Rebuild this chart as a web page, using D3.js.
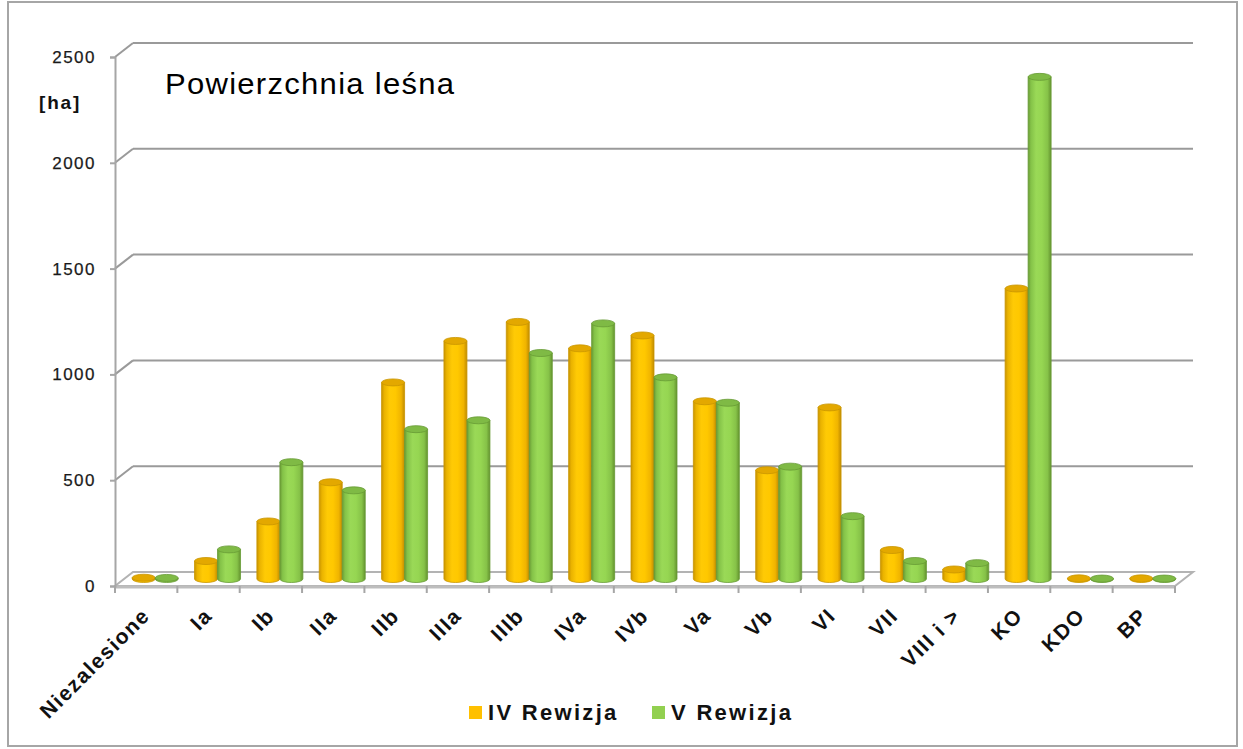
<!DOCTYPE html>
<html>
<head>
<meta charset="utf-8">
<script src="https://cdn.jsdelivr.net/npm/d3@7/dist/d3.min.js"></script>
<style>
  html, body { margin: 0; padding: 0; background: #fff; }
  svg { display: block; }
  text { font-family: "Liberation Sans", Arial, sans-serif; }
</style>
</head>
<body>
<svg id="chart" width="1243" height="749"></svg>
<script>
// ---- data ----
const categories = ["Niezalesione","Ia","Ib","IIa","IIb","IIIa","IIIb","IVa","IVb","Va","Vb","VI","VII","VIII i >","KO","KDO","BP"];
const seriesNames = ["IV Rewizja","V Rewizja"];
const rewizja4 = [6, 85, 272, 457, 929, 1125, 1215, 1090, 1151, 840, 514, 811, 137, 45, 1373, 3, 3];
const rewizja5 = [5, 140, 552, 419, 708, 750, 1068, 1208, 953, 833, 531, 297, 85, 75, 2373, 2, 2];
const yTicks = [0, 500, 1000, 1500, 2000, 2500];
const title = "Powierzchnia leśna";
const unitLabel = "[ha]";

// ---- layout ----
const svg = d3.select("#chart");
const X0 = 115, X1 = 1175, Y0 = 586, Y1 = 57;
const DX = 18, DY = -14; // depth offset of back wall

const x = d3.scaleBand().domain(categories).range([X0, X1]).paddingInner(0).paddingOuter(0);
const y = d3.scaleLinear().domain([0, 2500]).range([Y0, Y1]);

// outer frame
svg.append("rect").attr("x", 8).attr("y", 2).attr("width", 1229).attr("height", 744)
  .attr("fill", "#fff").attr("stroke", "#a6a6a6").attr("stroke-width", 2);

const defs = svg.append("defs");
function grad(id, stops) {
  const g = defs.append("linearGradient").attr("id", id).attr("x1", "0%").attr("x2", "100%").attr("y1", "0%").attr("y2", "0%");
  stops.forEach(s => g.append("stop").attr("offset", s[0]).attr("stop-color", s[1]));
}
grad("gOrange", [["0%", "#c99400"], ["12%", "#eab300"], ["35%", "#ffca05"], ["60%", "#ffc800"], ["85%", "#f0b400"], ["100%", "#c08c00"]]);
grad("gGreen", [["0%", "#6a9b36"], ["12%", "#84c248"], ["35%", "#9ad957"], ["60%", "#96d652"], ["85%", "#86c248"], ["100%", "#64932f"]]);

// floor
const floor = svg.append("g");
floor.append("path")
  .attr("d", `M${X0},${Y0} L${X1},${Y0} L${X1 + DX},${Y0 + DY} L${X0 + DX},${Y0 + DY} Z`)
  .attr("fill", "#fff").attr("stroke", "#b3b3b3").attr("stroke-width", 2);
floor.append("line").attr("x1", X0).attr("x2", X1).attr("y1", Y0 + 1).attr("y2", Y0 + 1)
  .attr("stroke", "#bdbdbd").attr("stroke-width", 3);

// gridlines on back wall and left wall
const grid = svg.append("g");
yTicks.filter(t => t > 0).forEach(t => {
  grid.append("line").attr("x1", X0 + DX).attr("x2", X1 + DX).attr("y1", y(t) + DY).attr("y2", y(t) + DY)
    .attr("stroke", "#9a9a9a").attr("stroke-width", 2);
  grid.append("line").attr("x1", X0).attr("x2", X0 + DX).attr("y1", y(t)).attr("y2", y(t) + DY)
    .attr("stroke", "#9a9a9a").attr("stroke-width", 2);
});

// y axis
const yAxis = svg.append("g").attr("transform", `translate(${X0},0)`)
  .call(d3.axisLeft(y).tickValues(yTicks).tickSize(5).tickPadding(14).tickFormat(d3.format("d")));
yAxis.select(".domain").attr("stroke", "#a6a6a6").attr("stroke-width", 2);
yAxis.selectAll(".tick line").attr("stroke", "#a6a6a6").attr("stroke-width", 2);
yAxis.selectAll(".tick text").attr("font-size", 17).attr("fill", "#1a1a1a")
  .attr("letter-spacing", 1.5).attr("stroke", "#1a1a1a").attr("stroke-width", 0.25)
  .attr("font-family", "Liberation Sans, Arial, sans-serif");

// x axis ticks at category boundaries
const xTickPos = categories.map(c => x(c)).concat([X1]);
svg.append("g").selectAll("line").data(xTickPos).join("line")
  .attr("x1", d => d).attr("x2", d => d).attr("y1", Y0).attr("y2", Y0 + 7)
  .attr("stroke", "#a6a6a6").attr("stroke-width", 2);

// x labels via axis
const xAxis = svg.append("g").attr("transform", `translate(0,${Y0})`)
  .call(d3.axisBottom(x).tickSize(0).tickPadding(0));
xAxis.select(".domain").remove();
xAxis.selectAll(".tick text")
  .attr("font-size", 21).attr("font-weight", "bold").attr("fill", "#111")
  .attr("letter-spacing", 1.5).attr("font-family", "Liberation Sans, Arial, sans-serif")
  .attr("text-anchor", "end").attr("dy", 0).attr("y", 0)
  .attr("transform", "translate(5,31) rotate(-45)");

// cylinders
const RX = 11.5, RY = 3.5;
const yMid = v => y(v) + DY / 2;
const bars = [];
categories.forEach((c, i) => {
  const cc = x(c) + x.bandwidth() / 2 + DX / 2;
  bars.push({ s: 0, cx: cc - RX, v: rewizja4[i] });
  bars.push({ s: 1, cx: cc + RX, v: rewizja5[i] });
});
const colors = [
  { fill: "url(#gOrange)", top: "#e3a800", rim: "#c99500" },
  { fill: "url(#gGreen)", top: "#7fba45", rim: "#679a35" }
];
const barG = svg.append("g");
bars.forEach(b => {
  const col = colors[b.s];
  const yb = yMid(0), yt = yMid(b.v);
  const g = barG.append("g");
  g.append("path")
    .attr("d", `M${b.cx - RX},${yt} L${b.cx - RX},${yb} A${RX},${RY} 0 0 0 ${b.cx + RX},${yb} L${b.cx + RX},${yt} Z`)
    .attr("fill", col.fill).attr("stroke", col.rim).attr("stroke-width", 0.8);
  g.append("ellipse").attr("cx", b.cx).attr("cy", yt).attr("rx", RX).attr("ry", RY)
    .attr("fill", col.top).attr("stroke", col.rim).attr("stroke-width", 0.8);
});

// title & unit label
svg.append("text").attr("x", 165).attr("y", 94).attr("font-size", 29).attr("letter-spacing", 1.2)
  .attr("transform", "translate(165,0) scale(1.07,1) translate(-165,0)")
  .attr("fill", "#000").text(title);
svg.append("text").attr("x", 39).attr("y", 109).attr("font-size", 19).attr("font-weight", "bold")
  .attr("letter-spacing", 1.8).attr("fill", "#111").text(unitLabel);

// legend
const legend = svg.append("g");
const legendX = [469, 652];
seriesNames.forEach((n, i) => {
  legend.append("rect").attr("x", legendX[i]).attr("y", 706).attr("width", 13).attr("height", 13)
    .attr("fill", i === 0 ? "#ffc000" : "#92d050");
  legend.append("text").attr("x", legendX[i] + 19).attr("y", 720).attr("font-size", 22)
    .attr("font-weight", "bold").attr("letter-spacing", 2.3).attr("fill", "#111").text(n);
});
</script>
</body>
</html>
